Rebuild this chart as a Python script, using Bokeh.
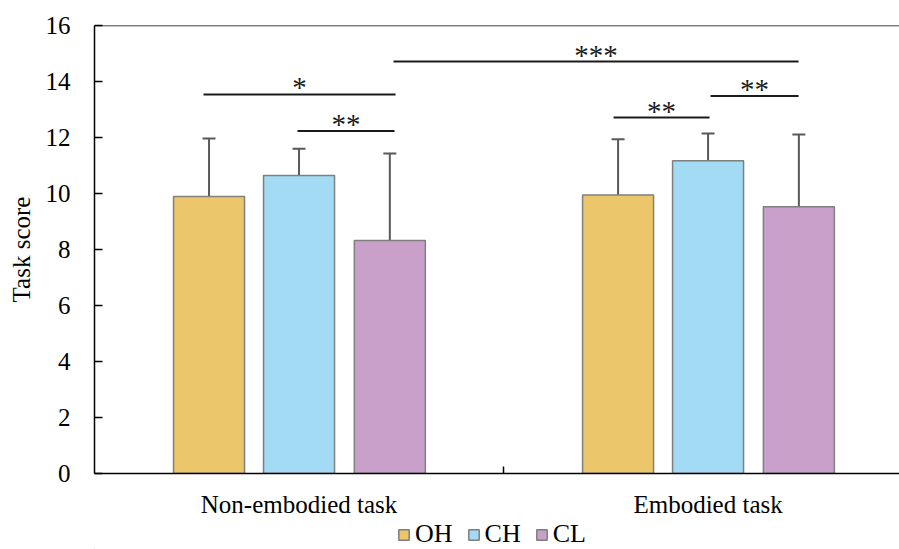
from bokeh.plotting import figure
from bokeh.layouts import column
from bokeh.models import (ColumnDataSource, Range1d, FixedTicker, Whisker, TeeHead,
                          Legend, LegendItem, Span)
from bokeh.core.properties import value
from bokeh.embed import file_html
from bokeh.resources import INLINE

# ---- data ----
groups = ["Non-embodied task", "Embodied task"]
group_pos = [0.5, 1.5]
series = ["OH", "CH", "CL"]
oh_mean = [9.89, 9.95]
ch_mean = [10.64, 11.17]
cl_mean = [8.32, 9.53]
oh_sd = [2.07, 1.99]
ch_sd = [0.96, 0.97]
cl_sd = [3.11, 2.58]
y_ticks = [0, 2, 4, 6, 8, 10, 12, 14, 16]

# significance brackets
br_x0 = [0.2665, 0.4963, 0.731, 1.269, 1.506]
br_x1 = [0.736, 0.7335, 1.7213, 1.5037, 1.7213]
br_y = [13.54, 12.23, 14.71, 12.71, 13.48]
br_label = ["*", "**", "***", "**", "**"]

# ---- style ----
FONT = "Liberation Serif"
FS = "25px"
colors = ["#ECC66A", "#A3DBF5", "#C9A0CA"]
offsets = [-0.22, 0.0, 0.222]
bar_w = 0.1736

p = figure(width=899, height=520, output_backend="svg", toolbar_location=None,
           x_range=Range1d(0, 1.968), y_range=Range1d(0, 16))
p.min_border_left = 94
p.min_border_right = 0
p.min_border_top = 25
p.min_border_bottom = 47
p.outline_line_color = None
p.grid.visible = False
p.background_fill_color = "white"

means = [oh_mean, ch_mean, cl_mean]
sds = [oh_sd, ch_sd, cl_sd]
for s, m, sd, c, off in zip(series, means, sds, colors, offsets):
    xs = [g + off for g in group_pos]
    src = ColumnDataSource(dict(x=xs, top=m, upper=[a + b for a, b in zip(m, sd)]))
    p.vbar(x="x", top="top", width=bar_w, bottom=0, source=src,
           fill_color=c, line_color="#7F7F7F", line_width=1.5)
    w = Whisker(base="x", upper="upper", lower="top", source=src,
                line_color="#595959", line_width=2,
                upper_head=TeeHead(size=13, line_color="#595959", line_width=2),
                lower_head=None)
    p.add_layout(w)

# top border line
p.add_layout(Span(location=16, dimension="width", line_color="black", line_width=1.5))

# brackets
bsrc = ColumnDataSource(dict(x0=br_x0, x1=br_x1, y=br_y, label=br_label,
                             xm=[(a + b) / 2 for a, b in zip(br_x0, br_x1)]))
p.segment(x0="x0", y0="y", x1="x1", y1="y", source=bsrc, line_color="#1a1a1a", line_width=2)
p.text(x="xm", y="y", text="label", source=bsrc, text_align="center",
       text_baseline="alphabetic", y_offset=-7, text_font=value(FONT),
       text_font_size="29px", text_color="#1a1a1a")

# axes
xa = p.xaxis[0]
xa.ticker = FixedTicker(ticks=group_pos, minor_ticks=[1.0])
xa.major_label_overrides = {0.5: groups[0], 1.5: groups[1]}
xa.major_tick_in = 0
xa.major_tick_out = 0
xa.minor_tick_in = 7
xa.minor_tick_out = 0
xa.minor_tick_line_color = "black"
xa.minor_tick_line_width = 1.5
xa.axis_line_color = "black"
xa.axis_line_width = 1.5
xa.major_label_text_font = FONT
xa.major_label_text_font_size = FS
xa.major_label_text_color = "black"
xa.major_label_standoff = 17

ya = p.yaxis[0]
ya.ticker = FixedTicker(ticks=y_ticks, minor_ticks=[])
ya.major_tick_in = 8
ya.major_tick_out = 0
ya.major_tick_line_color = "black"
ya.major_tick_line_width = 1.5
ya.axis_line_color = "black"
ya.axis_line_width = 1.5
ya.major_label_text_font = FONT
ya.major_label_text_font_size = FS
ya.major_label_text_color = "black"
ya.major_label_standoff = 24
ya.axis_label = "Task score"
ya.axis_label_text_font = FONT
ya.axis_label_text_font_size = FS
ya.axis_label_text_font_style = "normal"
ya.axis_label_text_color = "black"
ya.axis_label_standoff = 8

# legend in its own strip below
lf = figure(width=899, height=29, output_backend="svg", toolbar_location=None,
            x_range=Range1d(0, 1), y_range=Range1d(0, 1),
            x_axis_location=None, y_axis_location=None, min_border=0)
lf.min_border_left = 94
lf.outline_line_color = None
lf.grid.visible = False
items = []
for s, c in zip(series, colors):
    r = lf.vbar(x=[-10], top=[-10], bottom=-11, width=0.1, fill_color=c,
                line_color="#7F7F7F", line_width=1.5)
    items.append(LegendItem(label=s, renderers=[r]))
legend = Legend(items=items, orientation="horizontal", location=(303, 0),
                glyph_width=13, glyph_height=13, label_standoff=5, spacing=14,
                padding=0, margin=0, border_line_color=None, background_fill_alpha=0,
                label_text_font=FONT, label_text_font_size="26px", label_text_color="black")
lf.add_layout(legend, "center")

layout = column(p, lf, spacing=0)
open("out.html", "w").write(file_html(layout, INLINE))
